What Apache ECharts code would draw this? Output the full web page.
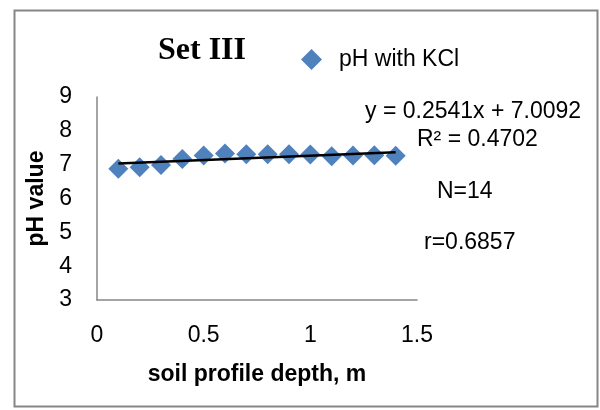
<!DOCTYPE html>
<html>
<head>
<meta charset="utf-8">
<script src="https://cdn.jsdelivr.net/npm/echarts@6/dist/echarts.min.js"></script>
<style>
  html, body { margin: 0; padding: 0; background: #fff; }
  #chart { width: 600px; height: 410px; }
</style>
</head>
<body>
<div id="chart"></div>
<script>
// Soil profile depth (m) and measured pH in KCl
var depths = [0.1, 0.2, 0.3, 0.4, 0.5, 0.6, 0.7, 0.8, 0.9, 1.0, 1.1, 1.2, 1.3, 1.4];
var phKCl = [6.88, 6.92, 6.99, 7.17, 7.27, 7.33, 7.31, 7.31, 7.31, 7.30, 7.25, 7.27, 7.28, 7.26];

// Linear trend coefficients and statistics
var slope = 0.2541;
var intercept = 7.0092;
var rSquared = '0.4702';
var nCount = 14;
var rValue = '0.6857';

var xTicks = { min: 0, max: 1.5, interval: 0.5 };
var yTicks = { min: 3, max: 9, interval: 1 };

var points = depths.map(function (d, i) { return [d, phKCl[i]]; });
var xFirst = depths[0], xLast = depths[depths.length - 1];
var trend = [[xFirst, slope * xFirst + intercept], [xLast, slope * xLast + intercept]];

var sansFont = '"Liberation Sans", Arial, sans-serif';
var textSize = 23;

var chart = echarts.init(document.getElementById('chart'), null, { renderer: 'canvas' });
chart.setOption({
  animation: false,
  backgroundColor: '#fff',
  title: {
    text: 'Set III',
    left: 153,
    top: 30,
    textStyle: { fontFamily: '"Liberation Serif", "Times New Roman", serif', fontWeight: 'bold', fontSize: 32, color: '#000' }
  },
  legend: {
    data: ['pH with KCl'],
    left: 296,
    top: 43,
    itemWidth: 21,
    itemHeight: 21,
    textStyle: { fontFamily: sansFont, fontSize: textSize, color: '#000', padding: [0, 0, 0, 12] }
  },
  grid: { left: 97, right: 183, top: 97, bottom: 110 },
  xAxis: {
    type: 'value',
    min: xTicks.min, max: xTicks.max, interval: xTicks.interval,
    name: 'soil profile depth, m',
    nameLocation: 'middle',
    nameGap: 63,
    nameTextStyle: { fontFamily: sansFont, fontWeight: 'bold', fontSize: textSize, color: '#000' },
    axisLine: { show: true, onZero: false, lineStyle: { color: '#868686', width: 1.5 } },
    axisTick: { show: false },
    splitLine: { show: false },
    axisLabel: { margin: 24, fontFamily: sansFont, fontSize: textSize, color: '#000' }
  },
  yAxis: {
    type: 'value',
    min: yTicks.min, max: yTicks.max, interval: yTicks.interval,
    name: 'pH value',
    nameLocation: 'middle',
    nameGap: 45,
    nameTextStyle: { fontFamily: sansFont, fontWeight: 'bold', fontSize: textSize, color: '#000' },
    axisLine: { show: true, lineStyle: { color: '#868686', width: 1.5 } },
    axisTick: { show: false },
    splitLine: { show: false },
    axisLabel: { margin: 25, fontFamily: sansFont, fontSize: textSize, color: '#000' }
  },
  series: [
    {
      name: 'pH with KCl',
      type: 'scatter',
      data: points,
      symbol: 'diamond',
      symbolSize: 20,
      itemStyle: { color: '#4F81BD', opacity: 1 },
      z: 2
    },
    {
      name: 'Linear (pH with KCl)',
      type: 'line',
      data: trend,
      showSymbol: false,
      symbol: 'none',
      lineStyle: { color: '#000', width: 2.5 },
      z: 3
    }
  ],
  graphic: [
    {
      type: 'rect',
      shape: { x: 14.5, y: 10.5, width: 583, height: 396 },
      style: { fill: 'none', stroke: '#868686', lineWidth: 2 },
      silent: true
    },
    {
      type: 'text', left: 365, top: 100,
      style: { text: 'y = ' + slope + 'x + ' + intercept, font: textSize + 'px ' + sansFont, fill: '#000' }
    },
    {
      type: 'text', left: 417, top: 128,
      style: { text: 'R\u00B2 = ' + rSquared, font: textSize + 'px ' + sansFont, fill: '#000' }
    },
    {
      type: 'text', left: 437, top: 180,
      style: { text: 'N=' + nCount, font: textSize + 'px ' + sansFont, fill: '#000' }
    },
    {
      type: 'text', left: 424, top: 231,
      style: { text: 'r=' + rValue, font: textSize + 'px ' + sansFont, fill: '#000' }
    }
  ]
});
</script>
</body>
</html>
